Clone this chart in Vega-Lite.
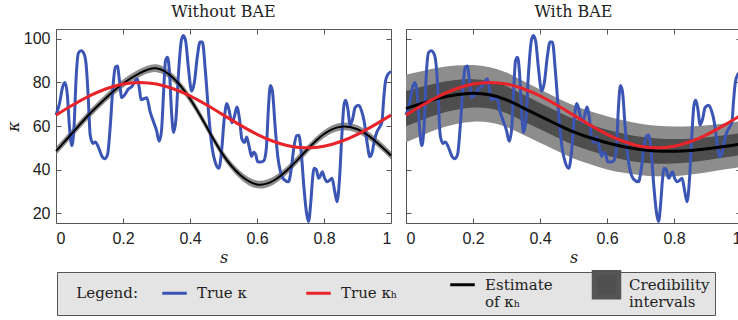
{
  "$schema": "https://vega.github.io/schema/vega-lite/v6.json",
  "background": "white",
  "padding": {"left": 4, "top": 3, "right": 0, "bottom": 0},
  "bounds": "flush",
  "spacing": 15,
  "datasets": {
    "blue": [
      {"s":0.000,"k":65},{"s":0.010,"k":70},{"s":0.020,"k":78},{"s":0.027,"k":80},{"s":0.034,"k":74},{"s":0.040,"k":60},{"s":0.047,"k":51},{"s":0.054,"k":60},{"s":0.060,"k":82},{"s":0.067,"k":93.5},{"s":0.075,"k":94.5},{"s":0.084,"k":93},{"s":0.090,"k":88},{"s":0.096,"k":74},{"s":0.102,"k":56},{"s":0.110,"k":52},{"s":0.117,"k":52.7},{"s":0.126,"k":50.5},{"s":0.136,"k":46.5},{"s":0.146,"k":45},{"s":0.154,"k":47},{"s":0.162,"k":60},{"s":0.170,"k":78},{"s":0.177,"k":87},{"s":0.183,"k":87.5},{"s":0.190,"k":80},{"s":0.196,"k":73},{"s":0.206,"k":74.5},{"s":0.216,"k":77},{"s":0.226,"k":78},{"s":0.236,"k":80.5},{"s":0.243,"k":81.7},{"s":0.249,"k":77},{"s":0.254,"k":72},{"s":0.262,"k":72.5},{"s":0.271,"k":73},{"s":0.281,"k":66.5},{"s":0.291,"k":62},{"s":0.300,"k":58},{"s":0.308,"k":53},{"s":0.315,"k":58},{"s":0.321,"k":75},{"s":0.327,"k":90},{"s":0.333,"k":91.5},{"s":0.339,"k":84},{"s":0.345,"k":66},{"s":0.351,"k":57},{"s":0.358,"k":63},{"s":0.366,"k":85},{"s":0.374,"k":99},{"s":0.380,"k":101.5},{"s":0.387,"k":99},{"s":0.395,"k":87},{"s":0.405,"k":76},{"s":0.413,"k":80},{"s":0.422,"k":92},{"s":0.430,"k":98.5},{"s":0.437,"k":98.5},{"s":0.446,"k":85},{"s":0.456,"k":65},{"s":0.466,"k":50},{"s":0.476,"k":43},{"s":0.486,"k":40.6},{"s":0.494,"k":48},{"s":0.502,"k":63},{"s":0.510,"k":70.3},{"s":0.517,"k":67},{"s":0.525,"k":61.5},{"s":0.532,"k":64},{"s":0.540,"k":68.7},{"s":0.548,"k":63},{"s":0.555,"k":54},{"s":0.563,"k":52.5},{"s":0.569,"k":55},{"s":0.576,"k":51},{"s":0.584,"k":46},{"s":0.590,"k":48},{"s":0.596,"k":47},{"s":0.602,"k":43.6},{"s":0.612,"k":43.5},{"s":0.620,"k":44},{"s":0.628,"k":50},{"s":0.634,"k":68},{"s":0.640,"k":78.6},{"s":0.646,"k":76},{"s":0.654,"k":60},{"s":0.662,"k":46},{"s":0.670,"k":39},{"s":0.680,"k":35.5},{"s":0.694,"k":34.4},{"s":0.702,"k":40},{"s":0.710,"k":50},{"s":0.718,"k":55.5},{"s":0.725,"k":55.8},{"s":0.732,"k":48},{"s":0.740,"k":32},{"s":0.748,"k":20},{"s":0.754,"k":16.2},{"s":0.760,"k":24},{"s":0.766,"k":36},{"s":0.770,"k":40.6},{"s":0.777,"k":40},{"s":0.784,"k":36},{"s":0.790,"k":37.5},{"s":0.795,"k":39},{"s":0.802,"k":36},{"s":0.809,"k":34.4},{"s":0.816,"k":35},{"s":0.824,"k":36},{"s":0.832,"k":30},{"s":0.839,"k":25.3},{"s":0.846,"k":35},{"s":0.853,"k":55},{"s":0.860,"k":70},{"s":0.865,"k":71.8},{"s":0.871,"k":68},{"s":0.878,"k":60.4},{"s":0.885,"k":63},{"s":0.893,"k":68.5},{"s":0.903,"k":69.5},{"s":0.912,"k":67},{"s":0.920,"k":62},{"s":0.928,"k":53},{"s":0.937,"k":45.9},{"s":0.944,"k":48},{"s":0.950,"k":53},{"s":0.958,"k":57.3},{"s":0.966,"k":59.5},{"s":0.973,"k":62},{"s":0.978,"k":72},{"s":0.983,"k":80},{"s":0.990,"k":83.5},{"s":1.000,"k":85}
    ],
    "red": [
      {"s":0,"k":65},{"s":0.05,"k":69.6},{"s":0.1,"k":73.8},{"s":0.15,"k":77.1},{"s":0.2,"k":79.3},{"s":0.25,"k":80},{"s":0.3,"k":79.3},{"s":0.35,"k":77.1},{"s":0.4,"k":73.8},{"s":0.45,"k":69.6},{"s":0.5,"k":65},{"s":0.55,"k":60.4},{"s":0.6,"k":56.2},{"s":0.65,"k":52.9},{"s":0.7,"k":50.7},{"s":0.75,"k":50},{"s":0.8,"k":50.7},{"s":0.85,"k":52.9},{"s":0.9,"k":56.2},{"s":0.95,"k":60.4},{"s":1,"k":65}
    ],
    "estL": [
      {"s":0,"e":48.5,"lo1":46.7,"hi1":50.3},{"s":0.05,"e":57,"lo1":55.2,"hi1":58.8},{"s":0.1,"e":65.5,"lo1":63.7,"hi1":67.3},{"s":0.15,"e":73,"lo1":71.2,"hi1":74.8},{"s":0.2,"e":79.5,"lo1":77.7,"hi1":81.3},{"s":0.25,"e":84.3,"lo1":82.5,"hi1":86.1},{"s":0.3,"e":86.5,"lo1":84.7,"hi1":88.3},{"s":0.35,"e":82,"lo1":80.2,"hi1":83.8},{"s":0.4,"e":72.5,"lo1":70.7,"hi1":74.3},{"s":0.45,"e":59.5,"lo1":57.7,"hi1":61.3},{"s":0.5,"e":46.5,"lo1":44.7,"hi1":48.3},{"s":0.55,"e":37.5,"lo1":35.7,"hi1":39.3},{"s":0.6,"e":33.2,"lo1":31.4,"hi1":35},{"s":0.65,"e":35,"lo1":33.2,"hi1":36.8},{"s":0.7,"e":41.2,"lo1":39.4,"hi1":43},{"s":0.75,"e":49.2,"lo1":47.4,"hi1":51},{"s":0.8,"e":56.3,"lo1":54.5,"hi1":58.1},{"s":0.85,"e":59.7,"lo1":57.9,"hi1":61.5},{"s":0.9,"e":58.5,"lo1":56.7,"hi1":60.3},{"s":0.95,"e":53.5,"lo1":51.7,"hi1":55.3},{"s":1,"e":46.5,"lo1":44.7,"hi1":48.3}
    ],
    "estR": [
      {"s":0,"e":68,"lo1":60,"hi1":76,"lo2":52.5,"hi2":83.5},
      {"s":0.05,"e":70.5,"lo1":62.9,"hi1":78.1,"lo2":55.8,"hi2":85.2},
      {"s":0.1,"e":72.8,"lo1":65.6,"hi1":80,"lo2":58.8,"hi2":86.8},
      {"s":0.15,"e":74.3,"lo1":67.5,"hi1":81.1,"lo2":60.9,"hi2":87.7},
      {"s":0.2,"e":75,"lo1":68.5,"hi1":81.5,"lo2":62,"hi2":88},
      {"s":0.25,"e":74.3,"lo1":68,"hi1":80.6,"lo2":61.6,"hi2":87},
      {"s":0.3,"e":72,"lo1":65.8,"hi1":78.2,"lo2":59.5,"hi2":84.5},
      {"s":0.35,"e":68.3,"lo1":62.2,"hi1":74.4,"lo2":56,"hi2":80.6},
      {"s":0.4,"e":64.5,"lo1":58.5,"hi1":70.5,"lo2":52.3,"hi2":76.7},
      {"s":0.45,"e":60.8,"lo1":54.8,"hi1":66.8,"lo2":48.6,"hi2":73},
      {"s":0.5,"e":57.3,"lo1":51.3,"hi1":63.3,"lo2":45.1,"hi2":69.5},
      {"s":0.55,"e":54.6,"lo1":48.6,"hi1":60.6,"lo2":42.4,"hi2":66.8},
      {"s":0.6,"e":52.3,"lo1":46.3,"hi1":58.3,"lo2":40.1,"hi2":64.5},
      {"s":0.65,"e":50.5,"lo1":44.5,"hi1":56.5,"lo2":38.5,"hi2":62.5},
      {"s":0.7,"e":49.2,"lo1":43.3,"hi1":55.1,"lo2":37.4,"hi2":61},
      {"s":0.75,"e":48.5,"lo1":42.7,"hi1":54.3,"lo2":36.9,"hi2":60.1},
      {"s":0.8,"e":48.4,"lo1":42.8,"hi1":54,"lo2":37,"hi2":59.8},
      {"s":0.85,"e":48.8,"lo1":43.4,"hi1":54.2,"lo2":37.7,"hi2":59.9},
      {"s":0.9,"e":49.6,"lo1":44.4,"hi1":54.8,"lo2":38.8,"hi2":60.4},
      {"s":0.95,"e":50.6,"lo1":45.5,"hi1":55.7,"lo2":40,"hi2":61.2},
      {"s":1,"e":51.7,"lo1":46.7,"hi1":56.7,"lo2":41.2,"hi2":62.2}
    ]
  },
  "hconcat": [
    {
      "width": 335,
      "height": 194,
      "title": {"text": "Without BAE", "offset": 9},
      "layer": [
        {
          "data": {"name": "estL"},
          "mark": {"type": "area", "color": "#707070", "opacity": 0.8, "interpolate": "natural"},
          "encoding": {
            "x": {"field": "s", "type": "quantitative", "scale": {"domain": [0, 1], "nice": false},
              "axis": {"values": [0, 0.2, 0.4, 0.6, 0.8, 1], "format": "~g", "title": "s", "labelPadding": 12, "titlePadding": 3}},
            "y": {"field": "lo1", "type": "quantitative", "scale": {"domain": [15.5, 104.5], "nice": false, "zero": false},
              "axis": {"values": [20, 40, 60, 80, 100], "title": "κ", "labelPadding": 11, "titlePadding": 2}},
            "y2": {"field": "hi1"}
          }
        },
        {
          "data": {"name": "blue"},
          "mark": {"type": "line", "strokeWidth": 3, "interpolate": "monotone"},
          "encoding": {
            "x": {"field": "s", "type": "quantitative", "axis": {"orient": "top", "labels": false, "title": null, "values": [0, 0.2, 0.4, 0.6, 0.8, 1]}},
            "y": {"field": "k", "type": "quantitative", "axis": {"orient": "right", "labels": false, "title": null, "values": [20, 40, 60, 80, 100]}},
            "color": {
              "datum": "True κ",
              "type": "nominal",
              "scale": {"domain": ["True κ", "True κₕ", "Estimate of κₕ", "Credibility intervals"], "range": ["#3b55b5", "#e8232a", "#000000", "#555555"]},
              "legend": {
                "orient": "none",
                "legendX": 1,
                "legendY": 243,
                "direction": "horizontal",
                "title": "\u200b\u00a0\u00a0\u00a0Legend:",
                "titleOrient": "left",
                "titleAngle": 0,
                "titleBaseline": "middle",
                "titleAnchor": "middle",
                "titleFont": "DejaVu Serif",
                "titleFontSize": 15,
                "titleFontWeight": "normal",
                "titleColor": "#222",
                "titlePadding": 29,
                "labelFont": "DejaVu Serif",
                "labelFontSize": 15,
                "labelColor": "#222",
                "labelLineHeight": 16,
                "labelOffset": 15,
                "labelLimit": 300,
                "labelExpr": "datum.value === 'Estimate of κₕ' ? ['Estimate', 'of κₕ'] : datum.value === 'Credibility intervals' ? ['Credibility', 'intervals'] : datum.value",
                "symbolType": "stroke",
                "symbolSize": 600,
                "symbolStrokeWidth": 3,
                "gridAlign": "all",
                "columnPadding": 18,
                "padding": 5,
                "fillColor": "#e4e4e4",
                "strokeColor": "#555555",
                "encode": {
                  "symbols": {
                    "update": {
                      "shape": {"signal": "datum.value === 'Credibility intervals' ? 'square' : 'stroke'"},
                      "fill": {"signal": "datum.value === 'Credibility intervals' ? '#505050' : 'transparent'"},
                      "stroke": {"signal": "datum.value === 'Credibility intervals' ? '#9a9a9a' : scale('color', datum.value)"},
                      "strokeWidth": {"signal": "datum.value === 'Credibility intervals' ? 5 : 3"},
                      "opacity": {"value": 1}
                    }
                  }
                }
              }
            }
          }
        },
        {
          "data": {"name": "estL"},
          "mark": {"type": "line", "strokeWidth": 2, "interpolate": "natural"},
          "encoding": {
            "x": {"field": "s", "type": "quantitative", "axis": null},
            "y": {"field": "e", "type": "quantitative", "axis": null},
            "color": {"datum": "Estimate of κₕ", "type": "nominal"}
          }
        },
        {
          "data": {"name": "red"},
          "mark": {"type": "line", "strokeWidth": 3, "interpolate": "natural"},
          "encoding": {
            "x": {"field": "s", "type": "quantitative", "axis": null},
            "y": {"field": "k", "type": "quantitative", "axis": null},
            "color": {"datum": "True κₕ", "type": "nominal"}
          }
        }
      ],
      "resolve": {"axis": {"x": "independent", "y": "independent"}}
    },
    {
      "width": 335,
      "height": 194,
      "title": {"text": "With BAE", "offset": 9},
      "layer": [
        {
          "data": {"name": "estR"},
          "mark": {"type": "area", "interpolate": "natural", "color": "#8d8d8d"},
          "encoding": {
            "x": {"field": "s", "type": "quantitative", "scale": {"domain": [0, 1], "nice": false},
              "axis": {"values": [0, 0.2, 0.4, 0.6, 0.8, 1], "format": "~g", "title": "s", "labelPadding": 12, "titlePadding": 3}},
            "y": {"field": "lo2", "type": "quantitative", "scale": {"domain": [15.5, 104.5], "nice": false, "zero": false},
              "axis": {"values": [20, 40, 60, 80, 100], "labels": false, "title": null}},
            "y2": {"field": "hi2"}
          }
        },
        {
          "data": {"name": "estR"},
          "mark": {"type": "area", "interpolate": "natural", "color": "#4e4e4e"},
          "encoding": {
            "x": {"field": "s", "type": "quantitative", "axis": {"orient": "top", "labels": false, "title": null, "values": [0, 0.2, 0.4, 0.6, 0.8, 1]}},
            "y": {"field": "lo1", "type": "quantitative", "axis": {"orient": "right", "labels": false, "title": null, "values": [20, 40, 60, 80, 100]}},
            "y2": {"field": "hi1"}
          }
        },
        {
          "data": {"name": "blue"},
          "mark": {"type": "line", "strokeWidth": 3, "interpolate": "monotone"},
          "encoding": {
            "x": {"field": "s", "type": "quantitative", "axis": null},
            "y": {"field": "k", "type": "quantitative", "axis": null},
            "color": {"datum": "True κ", "type": "nominal"}
          }
        },
        {
          "data": {"name": "estR"},
          "mark": {"type": "line", "strokeWidth": 3, "interpolate": "natural"},
          "encoding": {
            "x": {"field": "s", "type": "quantitative", "axis": null},
            "y": {"field": "e", "type": "quantitative", "axis": null},
            "color": {"datum": "Estimate of κₕ", "type": "nominal"}
          }
        },
        {
          "data": {"name": "red"},
          "mark": {"type": "line", "strokeWidth": 3, "interpolate": "natural"},
          "encoding": {
            "x": {"field": "s", "type": "quantitative", "axis": null},
            "y": {"field": "k", "type": "quantitative", "axis": null},
            "color": {"datum": "True κₕ", "type": "nominal"}
          }
        }
      ],
      "resolve": {"axis": {"x": "independent", "y": "independent"}}
    }
  ],
  "resolve": {"scale": {"color": "shared"}, "legend": {"color": "shared"}},
  "config": {
    "view": {"stroke": "#555555", "strokeWidth": 1},
    "axis": {
      "labelFont": "Liberation Sans",
      "labelFontSize": 16,
      "labelColor": "#222222",
      "tickColor": "#555555",
      "tickSize": -5,
      "domain": false,
      "grid": false,
      "titleFont": "DejaVu Serif",
      "titleFontStyle": "italic",
      "titleFontWeight": "normal",
      "titleFontSize": 16,
      "titleColor": "#222222"
    },
    "title": {"font": "DejaVu Serif", "fontSize": 16, "fontWeight": "normal", "color": "#222222"}
  }
}
